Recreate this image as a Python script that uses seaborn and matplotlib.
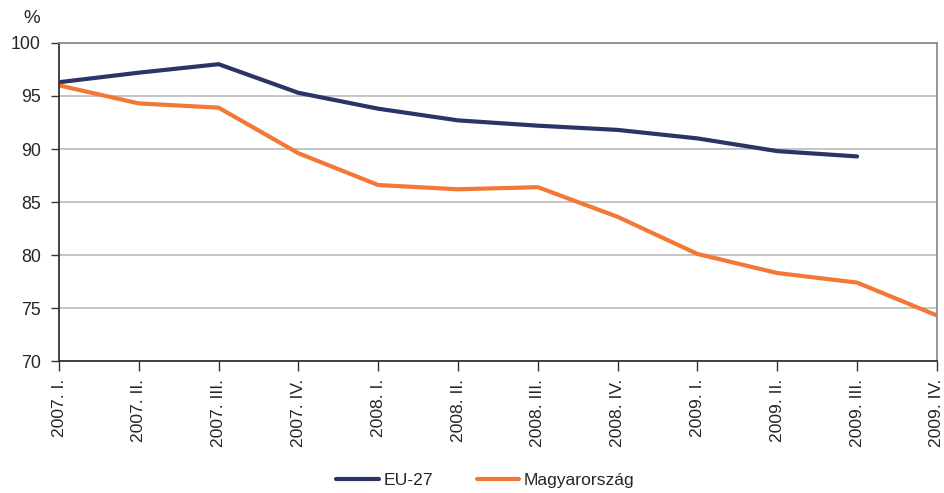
import pandas as pd
import matplotlib
matplotlib.use('Agg')
import matplotlib.pyplot as plt
import seaborn as sns

quarters = ['2007. I.', '2007. II.', '2007. III.', '2007. IV.',
            '2008. I.', '2008. II.', '2008. III.', '2008. IV.',
            '2009. I.', '2009. II.', '2009. III.', '2009. IV.']
eu27 = [96.3, 97.2, 98.0, 95.3, 93.8, 92.7, 92.2, 91.8, 91.0, 89.8, 89.3, None]
hungary = [96.0, 94.3, 93.9, 89.6, 86.6, 86.2, 86.4, 83.6, 80.1, 78.3, 77.4, 74.3]
series_names = ['EU-27', 'Magyarország']
colors = ['#2b3467', '#f37735']

df = pd.DataFrame({'quarter': quarters * 2,
                   'value': eu27 + hungary,
                   'series': [series_names[0]] * len(quarters) + [series_names[1]] * len(quarters)})
df = df.dropna()

sns.set_style('white')
plt.rcParams['font.family'] = ['Liberation Sans', 'DejaVu Sans']

fig = plt.figure(figsize=(9.44, 4.93), dpi=100)
ax = fig.add_axes([0.0625, 0.2677, 0.93, 0.6451])

sns.lineplot(data=df, x='quarter', y='value', hue='series', palette=colors,
             sort=False, linewidth=3, ax=ax)

ax.set_xlim(0, len(quarters) - 1)
ax.set_ylim(70, 100)
ax.set_yticks(range(70, 101, 5))
ax.set_xticks(range(len(quarters)))
ax.set_xticklabels(quarters, rotation=90, fontsize=12.6)
ax.tick_params(axis='y', labelsize=12.8, length=6, width=1, color='#333333', pad=7, left=True)
ax.tick_params(axis='x', length=7, width=1, color='#333333', pad=6, bottom=True)
ax.yaxis.grid(True, color='#c0c0c0', linewidth=1.3)
ax.set_axisbelow(True)
ax.set_xlabel('')
ax.set_ylabel('')

for side in ['left', 'bottom']:
    ax.spines[side].set_color('#333333')
    ax.spines[side].set_linewidth(1.3)
for side in ['top', 'right']:
    ax.spines[side].set_color('#8c8c8c')
    ax.spines[side].set_linewidth(1.3)

fig.text(0.034, 0.962, '%', fontsize=13.5, ha='center', va='center')

handles, labels = ax.get_legend_handles_labels()
ax.get_legend().remove()
fig.legend(handles, labels, loc='center', bbox_to_anchor=(0.514, 0.026), ncol=2, frameon=False,
           fontsize=12.6, handlelength=2.45, handletextpad=0.25, columnspacing=2.5,
           borderpad=0.2)

plt.savefig('out.png', dpi=100)
